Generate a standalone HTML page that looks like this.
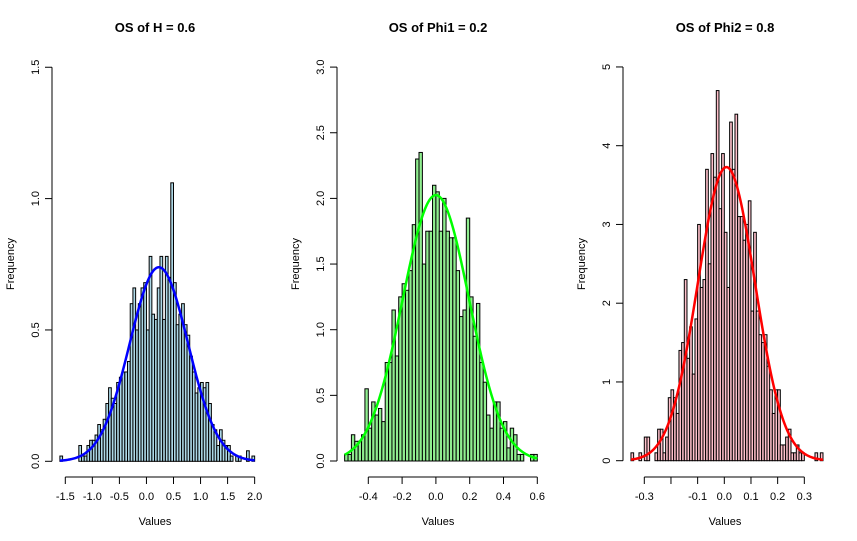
<!DOCTYPE html>
<html><head><meta charset="utf-8"><style>
html,body{margin:0;padding:0;background:#fff;}
svg{display:block;font-family:"Liberation Sans",Arial,sans-serif;}
</style></head><body>
<svg id="chart" width="857" height="541" viewBox="0 0 857 541" xmlns="http://www.w3.org/2000/svg"></svg>
<script>
// Panel 1: OS of H
const hBinStart = -1.6, hBinWidth = 0.05;
const hDensity = [0.02,0,0,0,0,0,0,0.06,0.02,0.02,0.06,0.08,0.08,0.10,0.14,0.12,0.16,0.22,0.28,0.24,0.22,0.30,0.32,0.34,0.34,0.38,0.60,0.66,0.50,0.60,0.66,0.68,0.50,0.78,0.56,0.54,0.66,0.78,0.54,0.78,0.70,1.06,0.68,0.52,0.56,0.60,0.52,0.48,0.40,0.34,0.26,0.28,0.30,0.28,0.30,0.22,0.14,0.12,0.06,0.12,0.08,0.06,0.06,0.02,0,0.02,0.02,0,0,0.04,0,0.02];
const hMean = 0.23, hSd = 0.54;
const hXTicks = [-1.5,-1.0,-0.5,0.0,0.5,1.0,1.5,2.0];
const hXLabels = ["-1.5","-1.0","-0.5","0.0","0.5","1.0","1.5","2.0"];
const hYTicks = [0,0.5,1.0,1.5];
const hYLabels = ["0.0","0.5","1.0","1.5"];
// Panel 2: OS of Phi1
const p1BinStart = -0.54, p1BinWidth = 0.02;
const p1Density = [0.05,0.05,0.20,0.15,0.15,0.20,0.55,0.25,0.45,0.35,0.40,0.30,0.75,0.75,1.15,0.80,1.25,1.35,1.30,1.45,1.80,2.30,2.35,1.50,1.75,1.75,2.10,2.05,1.75,2.00,1.75,1.70,1.70,1.45,1.10,1.15,1.85,1.25,0.95,1.20,0.75,0.60,0.35,0.25,0.45,0.45,0.25,0.30,0.10,0.25,0.20,0.05,0.05,0,0,0.05,0.05];
const p1Mean = 0.0, p1Sd = 0.197;
const p1XTicks = [-0.4,-0.2,0.0,0.2,0.4,0.6];
const p1XLabels = ["-0.4","-0.2","0.0","0.2","0.4","0.6"];
const p1YTicks = [0,0.5,1.0,1.5,2.0,2.5,3.0];
const p1YLabels = ["0.0","0.5","1.0","1.5","2.0","2.5","3.0"];
// Panel 3: OS of Phi2
const p2BinStart = -0.35, p2BinWidth = 0.01;
const p2Density = [0.1,0,0,0.1,0,0.3,0.3,0,0,0.1,0.4,0.4,0.1,0.3,0.8,0.9,0.8,0.6,1.4,1.5,2.3,1.3,1.7,1.1,1.8,3.0,2.2,2.3,3.7,2.5,3.9,3.6,4.7,3.2,3.9,2.9,2.2,4.3,3.7,4.4,3.1,3.1,2.8,3.0,3.3,1.9,2.9,1.9,1.6,1.5,1.6,1.2,0.9,0.6,0.9,0.9,0.2,0.2,0.3,0.4,0.1,0.1,0.2,0.1,0.1,0,0,0,0,0.1,0,0.1];
const p2Mean = 0.008, p2Sd = 0.107;
const p2XTicks = [-0.3,-0.2,-0.1,0.0,0.1,0.2,0.3];
const p2XLabels = ["-0.3","","-0.1","0.0","0.1","0.2","0.3"];
const p2YTicks = [0,1,2,3,4,5];
const p2YLabels = ["0","1","2","3","4","5"];

const svg = document.getElementById('chart');
const NS = 'http://www.w3.org/2000/svg';
function mk(tag, attrs, parent){
  const e = document.createElementNS(NS, tag);
  for (const k in attrs) e.setAttribute(k, attrs[k]);
  (parent||svg).appendChild(e);
  return e;
}

function panel(cfg){
  const g = mk('g', {});
  
  
  const xS = v => cfg.xPx0 + (v - cfg.xV0) * cfg.xScale;
  const yS = v => cfg.y0 - v * cfg.yScale;
  // title
  const t = mk('text', {x: cfg.titleX, y: 32, 'text-anchor':'middle', 'font-size':'13', 'font-weight':'bold'}, g);
  t.textContent = cfg.title;
  
  
  // bars
  cfg.density.forEach((d, i) => {
    const x0 = xS(cfg.binStart + i * cfg.binWidth);
    const x1 = xS(cfg.binStart + (i + 1) * cfg.binWidth);
    const r = mk('rect', {x: x0, y: yS(d), width: x1 - x0, height: Math.max(yS(0) - yS(d), 0), fill: cfg.fill, stroke: '#000', 'stroke-width': 1}, g);
    
    
  });
  // curve
  const xa = cfg.binStart, xb = cfg.binStart + cfg.density.length * cfg.binWidth;
  let pts = [];
  for (let k = 0; k <= 200; k++) {
    const v = xa + (xb - xa) * k / 200;
    const d = Math.exp(-0.5 * Math.pow((v - cfg.mean) / cfg.sd, 2)) / (cfg.sd * Math.sqrt(2 * Math.PI));
    pts.push(xS(v).toFixed(2) + ',' + yS(d).toFixed(2));
  }
  const pl = mk('polyline', {points: pts.join(' '), fill: 'none', stroke: cfg.line, 'stroke-width': 2.5}, g);
  
  
  // x axis
  const xAxY = 477;
  const xl = mk('line', {x1: xS(cfg.xTicks[0]), x2: xS(cfg.xTicks[cfg.xTicks.length-1]), y1: xAxY, y2: xAxY, stroke: '#000'}, g);
  
  
  cfg.xTicks.forEach((v, i) => {
    mk('line', {x1: xS(v), x2: xS(v), y1: xAxY, y2: xAxY + 7, stroke: '#000'}, g);
    if (cfg.xLabels[i]) {
      const tl = mk('text', {x: xS(v), y: 500, 'text-anchor': 'middle', 'font-size': '11'}, g);
      tl.textContent = cfg.xLabels[i];
      
      
    }
  });
  const xt = mk('text', {x: cfg.titleX, y: 525, 'text-anchor': 'middle', 'font-size': '11'}, g);
  xt.textContent = 'Values';
  
  
  // y axis
  const ax = cfg.yAxisX;
  const yl = mk('line', {x1: ax, x2: ax, y1: yS(cfg.yTicks[0]), y2: yS(cfg.yTicks[cfg.yTicks.length-1]), stroke: '#000'}, g);
  
  
  cfg.yTicks.forEach((v, i) => {
    mk('line', {x1: ax - 7, x2: ax, y1: yS(v), y2: yS(v), stroke: '#000'}, g);
    const tl = mk('text', {x: ax - 13, y: yS(v), 'text-anchor': 'middle', 'font-size': '11', transform: 'rotate(-90 ' + (ax - 13) + ' ' + yS(v) + ')'}, g);
    tl.textContent = cfg.yLabels[i];
    
    
  });
  const fx = ax - 38, fy = 264;
  const yt = mk('text', {x: fx, y: fy, 'text-anchor': 'middle', 'font-size': '11', transform: 'rotate(-90 ' + fx + ' ' + fy + ')'}, g);
  yt.textContent = 'Frequency';
  
  
}

panel({name:'panel-h', title:'OS of H = 0.6', titleX:155, density:hDensity, binStart:hBinStart, binWidth:hBinWidth, mean:hMean, sd:hSd,
  xPx0:65.3, xV0:-1.5, xScale:54.1, y0:461.3, yScale:262.7, yAxisX:52, fill:'#add8e6', line:'#0000ff',
  xTicks:hXTicks, xLabels:hXLabels, yTicks:hYTicks, yLabels:hYLabels});
panel({name:'panel-phi1', title:'OS of Phi1 = 0.2', titleX:438, density:p1Density, binStart:p1BinStart, binWidth:p1BinWidth, mean:p1Mean, sd:p1Sd,
  xPx0:368.3, xV0:-0.4, xScale:169, y0:461, yScale:131.3, yAxisX:337, fill:'#90ee90', line:'#00ff00',
  xTicks:p1XTicks, xLabels:p1XLabels, yTicks:p1YTicks, yLabels:p1YLabels});
panel({name:'panel-phi2', title:'OS of Phi2 = 0.8', titleX:725, density:p2Density, binStart:p2BinStart, binWidth:p2BinWidth, mean:p2Mean, sd:p2Sd,
  xPx0:644.3, xV0:-0.3, xScale:266.7, y0:460.7, yScale:78.75, yAxisX:623, fill:'#ffc0cb', line:'#ff0000',
  xTicks:p2XTicks, xLabels:p2XLabels, yTicks:p2YTicks, yLabels:p2YLabels});
</script>
</body></html>
